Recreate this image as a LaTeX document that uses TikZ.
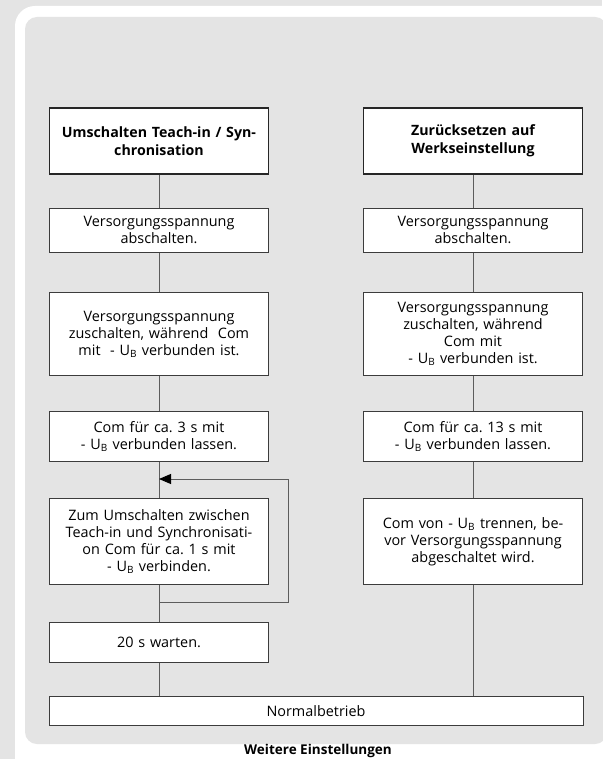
\documentclass[tikz,border=0pt]{standalone}
\usepackage{fontspec}
\setmainfont{Open Sans}
\usepackage{xcolor}
\usepackage{tikz}
\usetikzlibrary{arrows.meta, positioning, calc}
\definecolor{panel}{HTML}{E4E4E4}
\definecolor{boxline}{HTML}{3C3C3C}
\definecolor{wire}{HTML}{5C5C5C}
\frenchspacing

\begin{document}
\begin{tikzpicture}[x=1pt, y=-1pt,
  stepbox/.style={draw=boxline, fill=white, line width=0.9pt, align=center, anchor=north,
    minimum width=219pt, text width=216pt, inner sep=0pt, font=\fontsize{14.4}{17}\selectfont},
  headbox/.style={stepbox, draw=black!85, line width=1.9pt, font=\bfseries\fontsize{14.2}{18}\selectfont},
  wire/.style={draw=wire, line width=0.9pt}]
  \useasboundingbox (0,0) rectangle (602,759);
  % panel and frame
  \fill[panel] (0,0) rectangle (602,759);
  \fill[white, rounded corners=20pt] (15,6) rectangle (640,800);
  \fill[panel, rounded corners=12pt] (25,17) rectangle (607,744);

  % left column
  \node[headbox, minimum height=66pt] (headL) at (159,107) {Umschalten Teach-in / Syn-\\chronisation};
  \node[stepbox, minimum height=44pt] (offL) at (159,208) {Versorgungsspannung\\abschalten.};
  \node[stepbox, minimum height=83pt] (onL) at (159,292) {Versorgungsspannung\\zuschalten, während~ Com\\mit~ - U\textsubscript{B} verbunden ist.};
  \node[stepbox, minimum height=50pt] (holdL) at (159,411) {Com für ca. 3 s mit\\- U\textsubscript{B} verbunden lassen.};
  \node[stepbox, minimum height=86pt] (toggleL) at (159,498) {Zum Umschalten zwischen\\Teach-in und Synchronisati-\\on Com für ca. 1 s mit\\- U\textsubscript{B} verbinden.};
  \node[stepbox, minimum height=40pt] (waitL) at (159,622) {20 s warten.};

  % right column
  \node[headbox, minimum height=66pt] (headR) at (473,107) {Zurücksetzen auf\\Werkseinstellung};
  \node[stepbox, minimum height=44pt] (offR) at (473,208) {Versorgungsspannung\\abschalten.};
  \node[stepbox, minimum height=83pt] (onR) at (473,292) {Versorgungsspannung\\zuschalten, während\\Com mit\\- U\textsubscript{B} verbunden ist.};
  \node[stepbox, minimum height=50pt] (holdR) at (473,411) {Com für ca. 13 s mit\\- U\textsubscript{B} verbunden lassen.};
  \node[stepbox, minimum height=86pt] (releaseR) at (473,498) {Com von - U\textsubscript{B} trennen, be-\\vor Versorgungsspannung\\abgeschaltet wird.};

  \node[stepbox, minimum width=534pt, text width=520pt, minimum height=29pt] (normal) at (316,696) {Normalbetrieb};
  \node[font=\bfseries\fontsize{13.5}{15}\selectfont] (title) at (318,751) {Weitere Einstellungen};

  % connectors
  \draw[wire] (headL) -- (offL) -- (onL) -- (holdL) -- (toggleL) -- (waitL);
  \draw[wire] (waitL) -- (waitL.south |- normal.north);
  \draw[wire] (headR) -- (offR) -- (onR) -- (holdR) -- (releaseR);
  \draw[wire] (releaseR) -- (releaseR.south |- normal.north);

  % loop back
  \coordinate (loopout) at (159,602);
  \coordinate (loopturn) at (288,479);
  \draw[wire, -{Triangle[length=12pt, width=10pt, color=black]}] (loopout) -| (loopturn) -- (loopturn -| holdL.south);
\end{tikzpicture}
\end{document}
